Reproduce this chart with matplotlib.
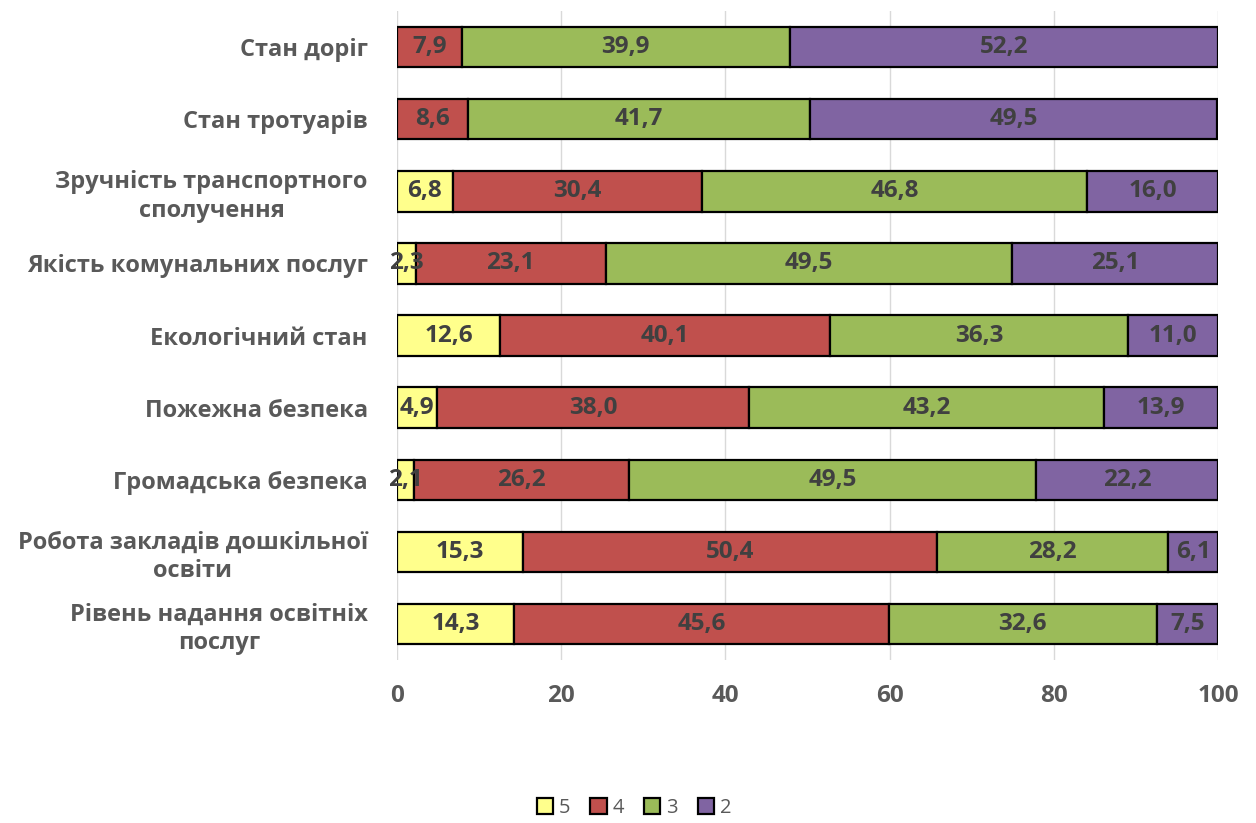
import matplotlib.pyplot as plt
import numpy as np

plt.rcParams['font.family'] = ['Open Sans', 'DejaVu Sans']

categories = ["Стан доріг", "Стан тротуарів", "Зручність транспортного\nсполучення",
              "Якість комунальних послуг", "Екологічний стан", "Пожежна безпека",
              "Громадська безпека", "Робота закладів дошкільної\nосвіти",
              "Рівень надання освітніх\nпослуг"]
series_names = ["5", "4", "3", "2"]
s5 = [0, 0, 6.8, 2.3, 12.6, 4.9, 2.1, 15.3, 14.3]
s4 = [7.9, 8.6, 30.4, 23.1, 40.1, 38.0, 26.2, 50.4, 45.6]
s3 = [39.9, 41.7, 46.8, 49.5, 36.3, 43.2, 49.5, 28.2, 32.6]
s2 = [52.2, 49.5, 16.0, 25.1, 11.0, 13.9, 22.2, 6.1, 7.5]
colors = ["#FFFF8C", "#C0504D", "#9BBB59", "#8064A2"]

text_col = "#404040"
fig = plt.figure(figsize=(12.56, 8.23), dpi=100)
ax = fig.add_axes([0.316, 0.198, 0.654, 0.7886])

y = np.arange(len(categories))
left = np.zeros(len(categories))
handles = []
for name, vals, c in zip(series_names, [s5, s4, s3, s2], colors):
    vals = np.array(vals)
    bars = ax.barh(y, vals, left=left, height=0.56, color=c, edgecolor="black",
                   linewidth=1.6, label=name, zorder=3)
    for yi, l, v in zip(y, left, vals):
        if v > 0:
            ax.text(l + v / 2, yi, f"{v:.1f}".replace(".", ","), ha="center", va="center",
                    fontsize=17.5, fontweight="bold", color=text_col, zorder=4)
    left += vals
    handles.append(bars)

ax.set_ylim(len(categories) - 0.5, -0.5)
ax.set_xlim(0, 100)
ax.set_xticks(np.arange(0, 101, 20))
ax.set_yticks(y)
ax.set_yticklabels(categories, fontsize=17, fontweight="bold", color="#595959",
                   multialignment="center", linespacing=1.25)
ax.tick_params(axis="y", length=0, pad=21)
ax.tick_params(axis="x", length=0, labelsize=17.5, labelcolor="#595959", pad=17)
for lab in ax.get_xticklabels():
    lab.set_fontweight("bold")
ax.grid(axis="x", color="#D9D9D9", linewidth=1, zorder=0)
for s in ax.spines.values():
    s.set_visible(False)

fig.legend(handles=handles, labels=series_names, loc="lower center", ncol=4,
           bbox_to_anchor=(0.505, -0.016), frameon=False, fontsize=14.5,
           labelcolor="#595959", handlelength=0.8, handleheight=0.8,
           handletextpad=0.3, columnspacing=1.0)

fig.savefig("out.png", dpi=100)
